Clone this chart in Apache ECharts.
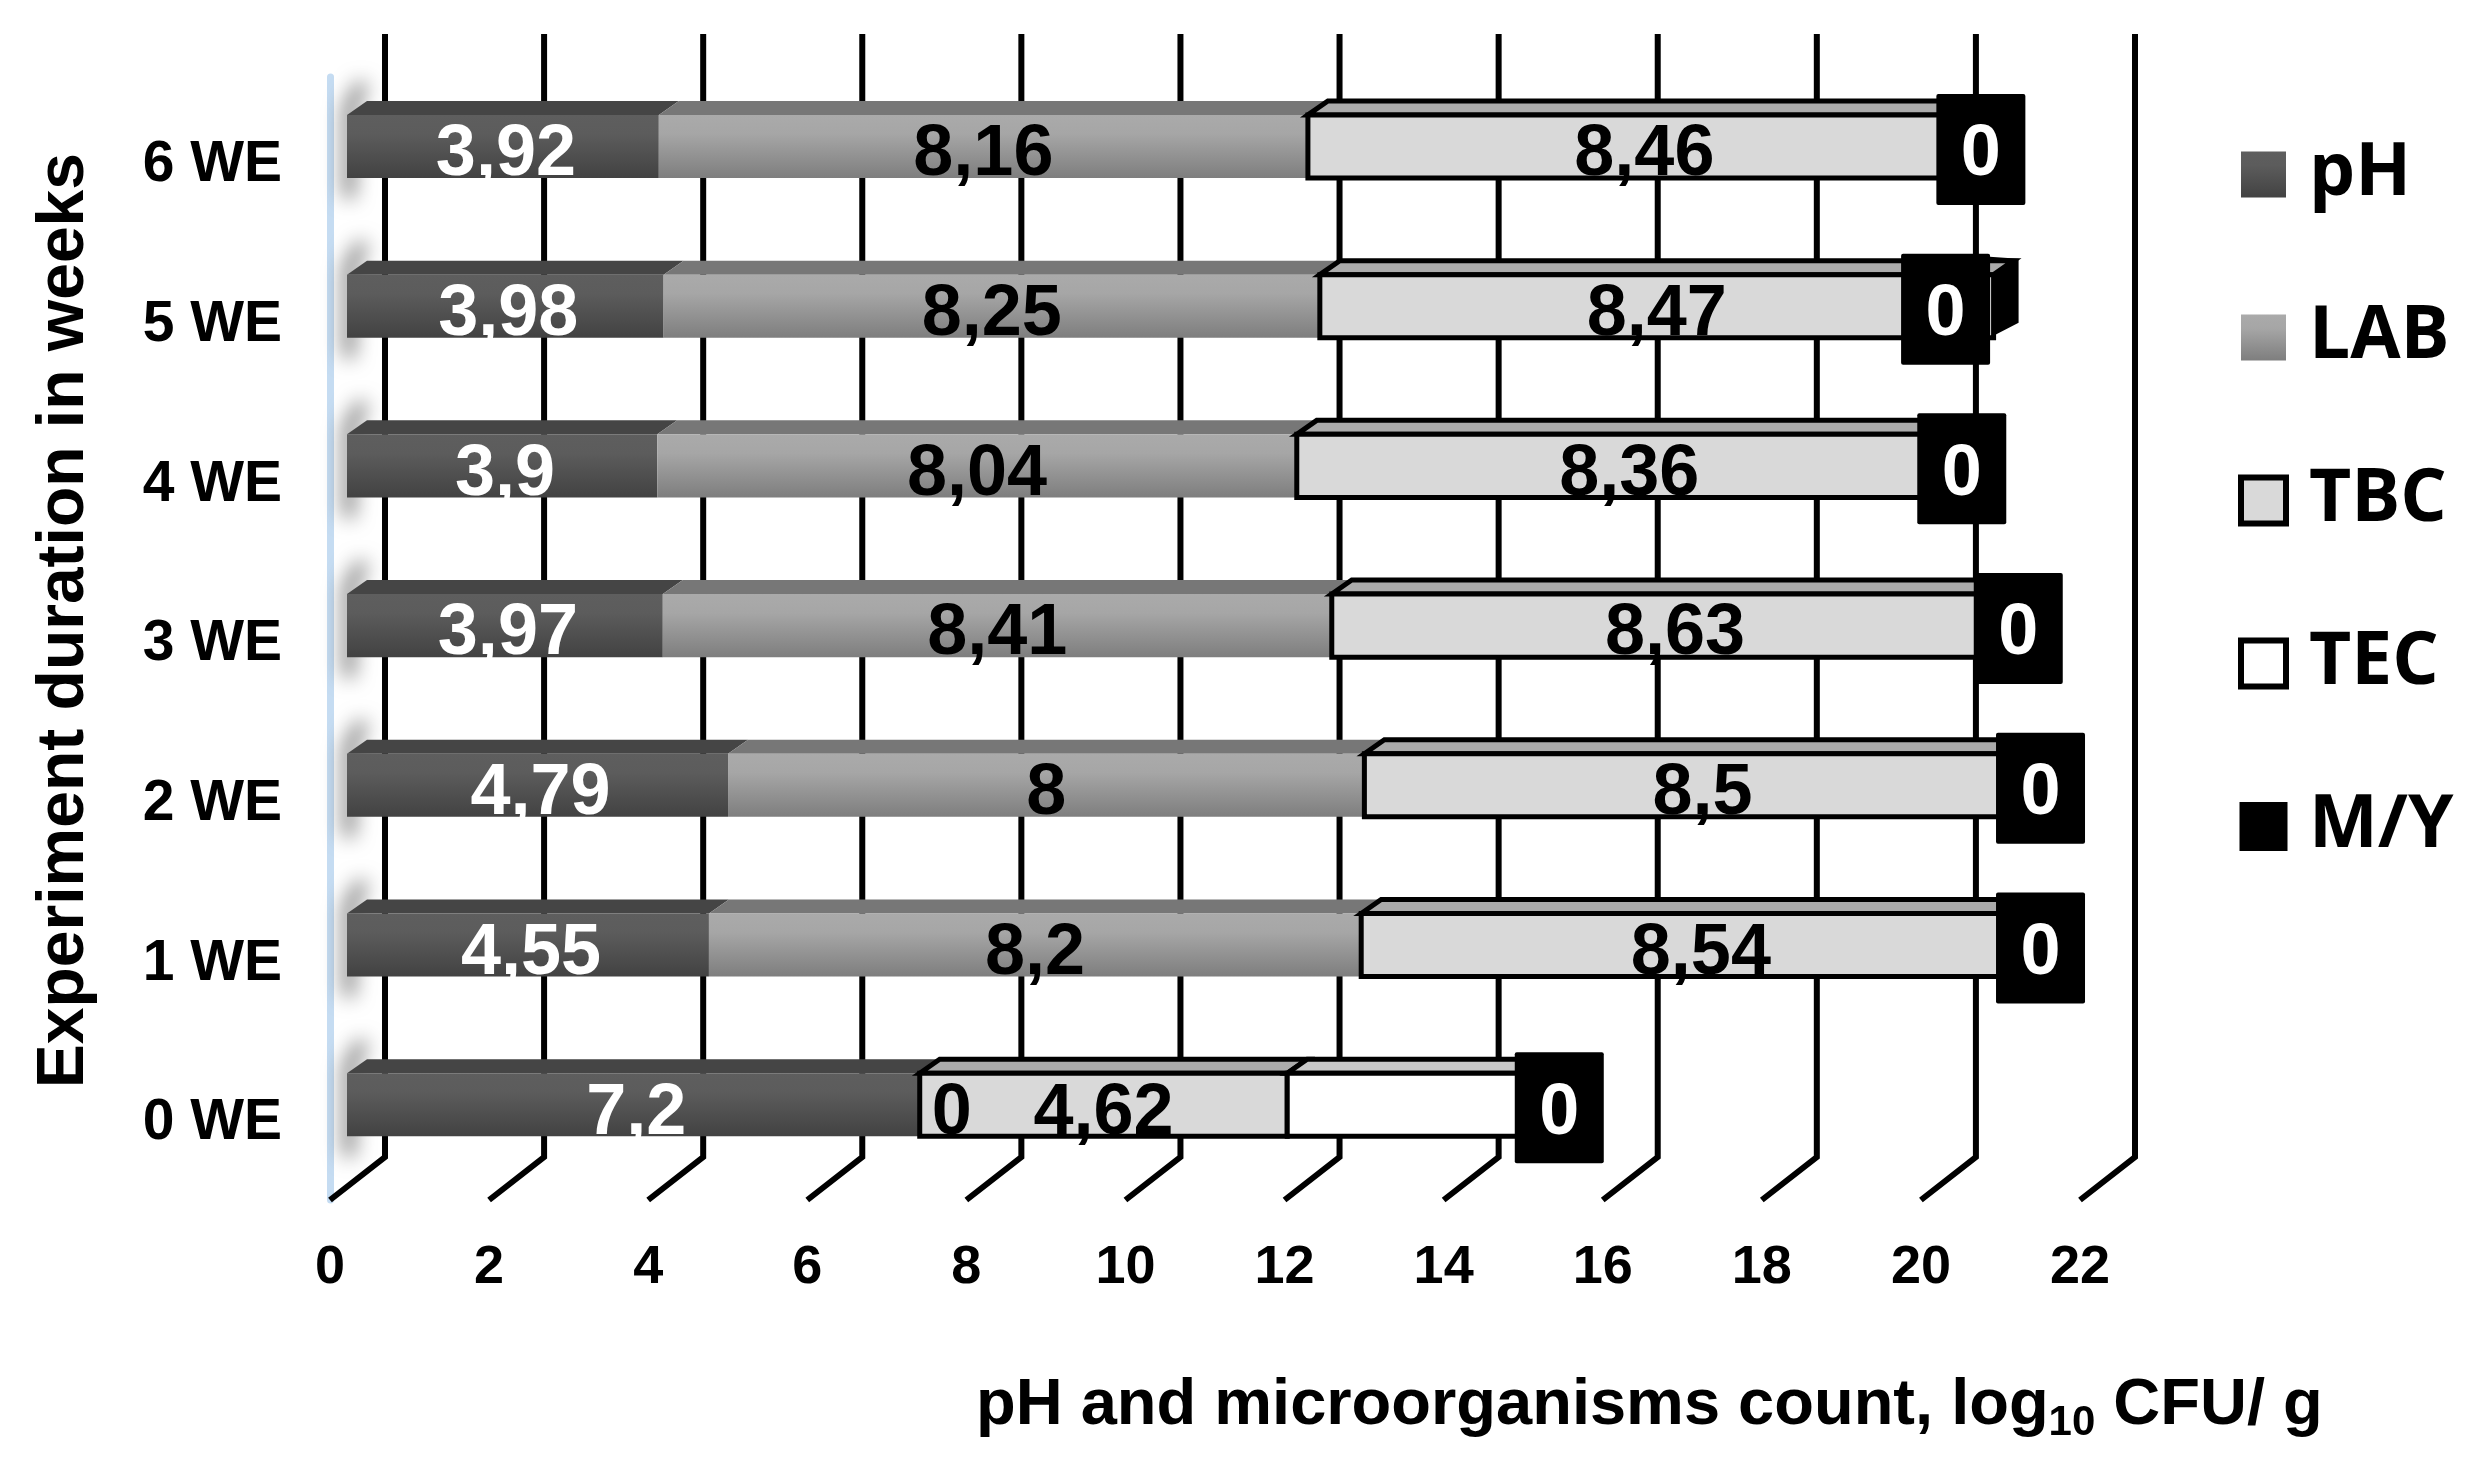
<!DOCTYPE html>
<html>
<head>
<meta charset="utf-8">
<style>html,body{margin:0;padding:0;background:#fff}#c{width:2486px;height:1464px}</style>
<script src="https://cdn.jsdelivr.net/npm/echarts@6/dist/echarts.min.js"></script>
</head>
<body>
<div id="c"></div>
<script>
const categories = ['0 WE','1 WE','2 WE','3 WE','4 WE','5 WE','6 WE'];
const xTicks = [0,2,4,6,8,10,12,14,16,18,20,22];
const pH  = [7.2, 4.55, 4.79, 3.97, 3.9, 3.98, 3.92];
const LAB = [0, 8.2, 8, 8.41, 8.04, 8.25, 8.16];
const TBC = [4.62, 8.54, 8.5, 8.63, 8.36, 8.47, 8.46];
const TEC = [3.42, 0, 0, 0, 0, 0, 0];
const MY  = [0, 0, 0, 0, 0, 0, 0];
const seriesNames = ['pH','LAB','TBC','TEC','M/Y'];

const chart = echarts.init(document.getElementById('c'), null, {renderer:'canvas'});
const LG = echarts.graphic.LinearGradient;
const FONT = 'Liberation Sans';
const DX = 20, DY = 14, RATIO = 0.395;
const WALL_DX = 55, WALL_DY = 43;
const valueFont = 'bold 72px "Liberation Sans"';
const phFill = new LG(0,0,0,1,[{offset:0,color:'#5e5e5e'},{offset:0.3,color:'#5c5c5c'},{offset:1,color:'#424242'}]);
const labFill = new LG(0,0,0,1,[{offset:0,color:'#aaaaaa'},{offset:0.3,color:'#a6a6a6'},{offset:1,color:'#7e7e7e'}]);
// placement of the few labels the reference moved by hand (pixels)
const labLabelShift = [32,0,0,0,0,0,0];
const myLabelShift = [0,0,0,0,0,-48,0];

const all = [pH, LAB, TBC, TEC, MY];
function rows(k){
  return categories.map((c,i)=>{
    let s=0; for(let j=0;j<k;j++) s+=all[j][i];
    return [i,s,s+all[k][i],all[k][i]];
  });
}
function fmt(v){ return String(v).replace('.',','); }
function geom(api){
  const i=api.value(0), s=api.value(1), e=api.value(2), v=api.value(3);
  const a=api.coord([s,i]), b=api.coord([e,i]);
  const h=api.size([0,1])[1]*RATIO;
  return {i,s,e,v,x0:a[0],x1:b[0],y0:a[1]-h/2,y1:a[1]+h/2,cy:a[1]};
}
function face(g,fill,top,stroke,lw){
  const out=[];
  const st = stroke ? {stroke,lineWidth:lw,lineJoin:'miter'} : {};
  out.push({type:'polygon',shape:{points:[[g.x0,g.y0],[g.x0+DX,g.y0-DY],[g.x1+DX,g.y0-DY],[g.x1,g.y0]]},style:Object.assign({fill:top},st)});
  out.push({type:'rect',shape:{x:g.x0,y:g.y0,width:g.x1-g.x0,height:g.y1-g.y0},style:Object.assign({fill},st)});
  return out;
}
function label(x,cy,t,color){
  return {type:'text',z2:50,style:{text:t,x:x,y:cy+9,align:'center',verticalAlign:'middle',font:valueFont,fill:color}};
}
function renderPH(p,api){
  const g=geom(api);
  const OFF=3000;
  const kids=[
    {type:'polyline',silent:true,shape:{points:[[g.x0+14-OFF,g.y0-28],[g.x0+2-OFF,g.y0-6],[g.x0+2-OFF,g.y1+16]]},
     style:{stroke:'#777777',lineWidth:10,fill:null,lineCap:'round',shadowBlur:20,shadowColor:'rgba(90,90,90,1)',shadowOffsetX:OFF}}
  ];
  return {type:'group',children:kids.concat(face(g,phFill,'#454545')).concat([label((g.x0+g.x1)/2+3,g.cy,fmt(g.v),'#ffffff')])};
}
function renderLAB(p,api){
  const g=geom(api);
  return {type:'group',children: g.v>0 ? face(g,labFill,'#777777') : []};
}
function renderLABLabel(p,api){
  const g=geom(api);
  return label((g.x0+g.x1)/2+labLabelShift[g.i],g.cy,fmt(g.v),'#000000');
}
function renderTBC(p,api){
  const g=geom(api);
  return {type:'group',children:face(g,'#d9d9d9','#ababab','#000000',5).concat([label((g.x0+g.x1)/2,g.cy,fmt(g.v),'#000000')])};
}
function renderTEC(p,api){
  const g=geom(api);
  if(!(g.v>0)) return {type:'group',children:[]};
  return {type:'group',children:face(g,'#ffffff','#c9c9c9','#000000',5)};
}
function renderSide(p,api){
  const g=geom(api);
  const x=g.x1;
  return {type:'polygon',shape:{points:[[x-4,g.y1],[x+25,g.y1-15],[x+25,g.y0-16],[x-4,g.y0-18]]},style:{fill:'#000000'}};
}
function renderMY(p,api){
  const g=geom(api);
  const cx=g.x1+myLabelShift[g.i];
  return {type:'group',children:[
    {type:'rect',shape:{x:cx-44.5,y:g.y0-21,width:89,height:111,r:2},style:{fill:'#000000'}},
    label(cx,g.cy,fmt(g.v),'#ffffff')
  ]};
}
function renderFrame(p,api){
  const a=api.coord([api.value(0),0]), t=api.coord([api.value(0),1]);
  const bx=a[0]+WALL_DX, by=a[1]-WALL_DY;
  return {type:'polyline',shape:{points:[[a[0],a[1]],[bx,by],[bx,t[1]-WALL_DY]]},
    style:{stroke:'#000000',lineWidth:6,fill:null,lineJoin:'miter'}};
}
function bar(name,k,render,z,itemStyle){
  return {name,type:'custom',renderItem:render,coordinateSystem:'cartesian2d',xAxisIndex:0,yAxisIndex:0,
    data:rows(k),encode:{x:[1,2],y:0},clip:false,z,itemStyle,silent:true};
}
const stackEnd = categories.map((c,i)=>{let s=0;all.forEach(a=>s+=a[i]);return [i,s,s,0];});
const legendStyles = {
  'pH':{color:phFill},
  'LAB':{color:labFill},
  'TBC':{color:'#d9d9d9',borderColor:'#000',borderWidth:6},
  'TEC':{color:'#ffffff',borderColor:'#000',borderWidth:6},
  'M/Y':{color:'#000000',borderColor:'#000',borderWidth:3}
};

chart.setOption({
  animation:false,
  backgroundColor:'#ffffff',
  textStyle:{fontFamily:FONT},
  title:{
    text:'{a|pH and microorganisms count, log}{b|10}{a| CFU/ g}',
    left:971, top:1363,
    textStyle:{rich:{
      a:{fontFamily:FONT,fontWeight:'bold',fontSize:65,color:'#000'},
      b:{fontFamily:FONT,fontWeight:'bold',fontSize:42,color:'#000',padding:[34,0,0,0]}
    }}
  },
  legend:{
    orient:'vertical',left:2233,top:133,itemWidth:45,itemHeight:46,itemGap:90,icon:'rect',
    data:seriesNames.map(n=>({name:n,itemStyle:legendStyles[n]})),selectedMode:false,
    textStyle:{fontFamily:'Open Sans',fontWeight:'bold',fontSize:73,color:'#000',padding:[0,0,0,18]}
  },
  grid:[
    {left:347,top:66.6,width:1750,height:1118,containLabel:false,outerBoundsMode:'none'},
    {left:330,top:77,width:1750,height:1123,containLabel:false,outerBoundsMode:'none'}
  ],
  xAxis:[
    {type:'value',gridIndex:0,min:0,max:22,interval:2,show:false,splitLine:{show:false}},
    {type:'value',gridIndex:1,min:0,max:22,interval:2,position:'bottom',
     axisLine:{show:false},axisTick:{show:false},splitLine:{show:false},
     axisLabel:{margin:41,color:'#000',fontFamily:FONT,fontWeight:'bold',fontSize:54,hideOverlap:false,showMinLabel:true,showMaxLabel:true}}
  ],
  yAxis:[
    {type:'category',gridIndex:0,data:categories,
     axisLine:{show:false},axisTick:{show:false},splitLine:{show:false},
     axisLabel:{margin:65,interval:0,formatter:v=>'{a|'+v+'}',
       rich:{a:{color:'#000',fontFamily:FONT,fontWeight:'bold',fontSize:57,padding:[38,0,0,0]}}},
     name:'Experiment duration in weeks',nameLocation:'middle',nameRotate:90,nameGap:249,
     nameTextStyle:{color:'#000',fontFamily:FONT,fontWeight:'bold',fontSize:66,padding:[0,0,0,10]}},
    {type:'value',gridIndex:1,min:0,max:1,show:true,
     axisLine:{show:true,onZero:false,lineStyle:{color:'#c5dcf2',width:7}},axisTick:{show:false},axisLabel:{show:false},splitLine:{show:false}}
  ],
  series:[
    {type:'custom',name:'frame',renderItem:renderFrame,xAxisIndex:1,yAxisIndex:1,data:xTicks.map(v=>[v]),encode:{x:0},clip:false,z:1,silent:true},
    {type:'custom',name:'side',renderItem:renderSide,xAxisIndex:0,yAxisIndex:0,data:stackEnd,encode:{x:[1,2],y:0},clip:false,z:2,silent:true},
    bar('pH',0,renderPH,3,{color:phFill}),
    bar('LAB',1,renderLAB,4,{color:labFill}),
    bar('TBC',2,renderTBC,5,{color:'#d9d9d9',borderColor:'#000',borderWidth:6}),
    bar('TEC',3,renderTEC,6,{color:'#ffffff',borderColor:'#000',borderWidth:6}),
    bar('M/Y',4,renderMY,7,{color:'#000000'}),
    {type:'custom',name:'LAB values',renderItem:renderLABLabel,xAxisIndex:0,yAxisIndex:0,data:rows(1),encode:{x:[1,2],y:0},clip:false,z:8,silent:true}
  ]
});
</script>
</body>
</html>
